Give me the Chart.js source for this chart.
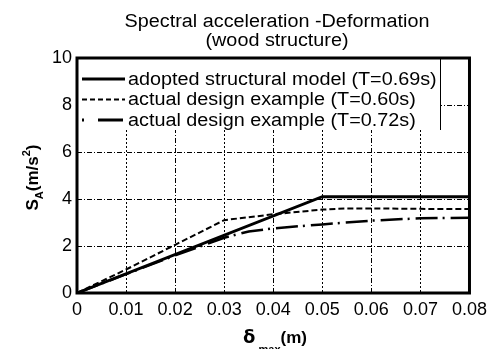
<!DOCTYPE html>
<html>
<head>
<meta charset="utf-8">
<script src="https://cdn.jsdelivr.net/npm/chart.js@4.4.1/dist/chart.umd.min.js"></script>
<style>
  html, body { margin: 0; padding: 0; background: #fff; }
  #wrap { width: 493px; height: 349px; }
</style>
</head>
<body>
<div id="wrap"><canvas id="sa-chart"></canvas></div>
<script>
// deformation (m) vs spectral acceleration (m/s2)
const adoptedDelta = [0, 0.05, 0.08];
const adoptedSa = [0, 4.1, 4.1];

const design060Delta = [0, 0.01, 0.02, 0.03, 0.04, 0.05, 0.055, 0.06, 0.07, 0.08];
const design060Sa = [0, 1.0, 2.05, 3.1, 3.35, 3.55, 3.6, 3.6, 3.58, 3.57];

const design072Delta = [0, 0.01, 0.02, 0.03, 0.035, 0.04, 0.05, 0.06, 0.07, 0.08];
const design072Sa = [0, 0.8, 1.6, 2.35, 2.62, 2.75, 2.92, 3.08, 3.18, 3.2];

const seriesNames = [
  'adopted structural model (T=0.69s)',
  'actual design example (T=0.60s)',
  'actual design example (T=0.72s)'
];
const titleLines = ['Spectral acceleration -Deformation', '(wood structure)'];
const xTickLabels = ['0', '0.01', '0.02', '0.03', '0.04', '0.05', '0.06', '0.07', '0.08'];
const yTickLabels = ['0', '2', '4', '6', '8', '10'];

const FONT = '"Liberation Sans", Arial, sans-serif';
const toPoints = (xs, ys) => xs.map((x, i) => ({ x: x, y: ys[i] }));

// text drawn slightly wide, like the rest of the figure
function wideText(ctx, str, x, y, font, align, sx) {
  ctx.save();
  ctx.font = font;
  const w = ctx.measureText(str).width * sx;
  let left = x;
  if (align === 'center') left = x - w / 2;
  ctx.translate(left, y);
  ctx.scale(sx, 1);
  ctx.textAlign = 'left';
  ctx.fillText(str, 0, 0);
  ctx.restore();
}

// legend samples: [lineWidth, dash, dashOffset]
const legendStyles = [[3, [], 0], [2, [5, 3], 0], [3, [2, 14, 23, 0], 0]];

const decorPlugin = {
  id: 'decor',
  afterDatasetsDraw(chart) {
    const ctx = chart.ctx;
    const a = chart.chartArea;
    ctx.save();
    // legend box, white so the grid stops at its edge
    ctx.fillStyle = '#fff';
    ctx.fillRect(a.left, a.top, 440 - a.left, 130 - a.top);
    ctx.strokeStyle = '#000';
    ctx.lineWidth = 1;
    ctx.beginPath();
    ctx.moveTo(440.5, a.top);
    ctx.lineTo(440.5, 130);
    ctx.stroke();
    ctx.lineWidth = 3;
    ctx.setLineDash([]);
    ctx.strokeRect(a.left, a.top, a.right - a.left, a.bottom - a.top);
    ctx.restore();
  },
  afterDraw(chart) {
    const ctx = chart.ctx;
    const a = chart.chartArea;
    ctx.save();
    ctx.fillStyle = '#000';
    ctx.strokeStyle = '#000';
    ctx.textBaseline = 'alphabetic';

    // title
    wideText(ctx, titleLines[0], 277, 27, '18px ' + FONT, 'center', 1.1);
    wideText(ctx, titleLines[1], 277, 46, '18px ' + FONT, 'center', 1.1);

    // legend entries
    ctx.textBaseline = 'middle';
    chart.data.datasets.forEach((ds, i) => {
      const y = a.top + 21 + i * 20.5;
      const st = legendStyles[i];
      ctx.beginPath();
      ctx.lineWidth = st[0];
      ctx.setLineDash(st[1]);
      ctx.lineDashOffset = st[2];
      ctx.moveTo(a.left + 5, y);
      ctx.lineTo(a.left + 48, y);
      ctx.stroke();
      wideText(ctx, ds.label, a.left + 51, y + 1, '18px ' + FONT, 'left', 1.1);
    });
    ctx.setLineDash([]);
    ctx.textBaseline = 'alphabetic';

    // y title: S_A (m/s^2), rotated
    ctx.save();
    ctx.translate(38, (a.top + a.bottom) / 2 + 2);
    ctx.rotate(-Math.PI / 2);
    const big = 'bold 17px ' + FONT;
    const small = 'bold 11px ' + FONT;
    const parts = [['S', big, 0], ['A', small, 5], ['(m/s', big, 0], ['2', small, -8], [')', big, 0]];
    let w = 0;
    parts.forEach(p => { ctx.font = p[1]; w += ctx.measureText(p[0]).width; });
    let x = -w / 2;
    parts.forEach(p => {
      ctx.font = p[1];
      ctx.fillText(p[0], x, p[2]);
      x += ctx.measureText(p[0]).width;
    });
    ctx.restore();

    // x title: delta_max (m), subscript runs off the bottom edge
    const xparts = [
      ['\u03b4', 'bold 18px "DejaVu Sans", sans-serif', 0],
      [' max', 'bold 11px ' + FONT, 10],
      ['(m)', 'bold 17px ' + FONT, 0]
    ];
    let xw = 0;
    xparts.forEach(p => { ctx.font = p[1]; xw += ctx.measureText(p[0]).width; });
    let xx = 275 - xw / 2;
    xparts.forEach(p => {
      ctx.font = p[1];
      ctx.fillText(p[0], xx, 343 + p[2]);
      xx += ctx.measureText(p[0]).width;
    });
    ctx.restore();
  }
};

new Chart(document.getElementById('sa-chart'), {
  type: 'line',
  data: {
    datasets: [
      {
        label: seriesNames[0],
        data: toPoints(adoptedDelta, adoptedSa),
        borderColor: '#000',
        borderWidth: 3,
        pointRadius: 0,
        tension: 0
      },
      {
        label: seriesNames[1],
        data: toPoints(design060Delta, design060Sa),
        borderColor: '#000',
        borderWidth: 2,
        borderDash: [6, 3],
        pointRadius: 0,
        tension: 0
      },
      {
        label: seriesNames[2],
        data: toPoints(design072Delta, design072Sa),
        borderColor: '#000',
        borderWidth: 2.5,
        borderDash: [22, 5, 2, 6],
        pointRadius: 0,
        tension: 0
      }
    ]
  },
  options: {
    responsive: true,
    maintainAspectRatio: false,
    animation: false,
    layout: { padding: { left: 0, right: 23, top: 58, bottom: 0 } },
    plugins: {
      legend: { display: false },
      title: { display: false },
      tooltip: { enabled: false }
    },
    scales: {
      x: {
        type: 'linear',
        min: 0,
        max: 0.08,
        afterFit: s => { s.height = 56; },
        ticks: {
          stepSize: 0.01,
          color: '#000',
          font: { family: FONT, size: 18 },
          padding: 6,
          maxRotation: 0,
          autoSkip: false,
          callback: (v, i) => xTickLabels[i]
        },
        grid: { color: '#000', lineWidth: 1, drawTicks: false },
        border: { display: false, dash: ctx => (ctx.index % 2 ? [2, 2] : [5, 2, 1, 2]) }
      },
      y: {
        min: 0,
        max: 10,
        afterFit: s => { s.width = 77; },
        ticks: {
          stepSize: 2,
          color: '#000',
          font: { family: FONT, size: 18 },
          padding: 5,
          callback: (v, i) => yTickLabels[i]
        },
        grid: { color: '#000', lineWidth: 1, drawTicks: false },
        border: { display: false, dash: [5, 2, 1, 2] }
      }
    }
  },
  plugins: [decorPlugin]
});
</script>
</body>
</html>
